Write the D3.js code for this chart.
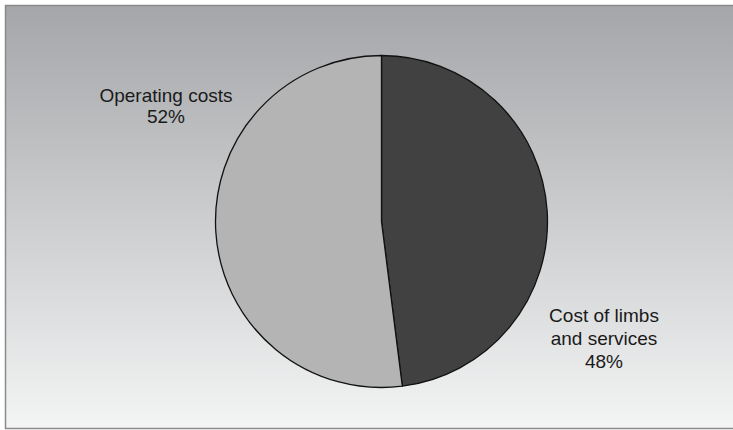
<!DOCTYPE html>
<html>
<head>
<meta charset="utf-8">
<script src="https://cdn.jsdelivr.net/npm/d3@7"></script>
<style>
  html, body { margin: 0; padding: 0; background: #ffffff; }
  svg { display: block; }
</style>
</head>
<body>
<svg id="chart" width="733" height="430"></svg>
<script>
// Cost breakdown, clockwise from 12 o'clock
const categories = ["Cost of limbs and services", "Operating costs"];
const values = [48, 52];
const labelLines = [["Cost of limbs", "and services", "48%"], ["Operating costs", "52%"]];
const sliceColors = ["#414141", "#b4b4b4"];

const W = 733, H = 430;
const svg = d3.select("#chart");

// Panel with a vertical gray gradient
const defs = svg.append("defs");
const grad = defs.append("linearGradient")
  .attr("id", "bg").attr("x1", 0).attr("y1", 0).attr("x2", 0).attr("y2", 1);
grad.append("stop").attr("offset", "0%").attr("stop-color", "#a5a6a9");
grad.append("stop").attr("offset", "100%").attr("stop-color", "#f3f4f4");

svg.append("rect")
  .attr("x", 5.5).attr("y", 5.5)
  .attr("width", W + 10).attr("height", 423)
  .attr("fill", "url(#bg)")
  .attr("stroke", "#8a8a8a").attr("stroke-width", 1.5);

const cx = 381.5, cy = 221.5, r = 166;

const pie = d3.pie().sort(null).value(d => d.value);
const arcs = pie(categories.map((c, i) => ({ name: c, value: values[i], color: sliceColors[i], lines: labelLines[i] })));
const arc = d3.arc().innerRadius(0).outerRadius(r);

const g = svg.append("g").attr("transform", `translate(${cx},${cy})`);
g.selectAll("path.slice")
  .data(arcs)
  .join("path")
  .attr("class", "slice")
  .attr("d", arc)
  .attr("fill", d => d.data.color)
  .attr("stroke", "#111111")
  .attr("stroke-width", 1.3)
  .attr("stroke-linejoin", "round");

// Outside labels: anchor position (centre of first baseline) and line spacing
const labelPos = [
  { x: 604, y: 322, lh: 23 },
  { x: 166, y: 102, lh: 21 }
];

const labels = svg.append("g")
  .attr("font-family", "'Liberation Sans', Arial, sans-serif")
  .attr("font-size", 19)
  .attr("fill", "#1a1a1a")
  .attr("text-anchor", "middle");

arcs.forEach((a, i) => {
  const p = labelPos[i];
  const t = labels.append("text").attr("x", p.x).attr("y", p.y);
  a.data.lines.forEach((line, j) => {
    t.append("tspan").attr("x", p.x).attr("y", p.y + j * p.lh).text(line);
  });
});
</script>
</body>
</html>
